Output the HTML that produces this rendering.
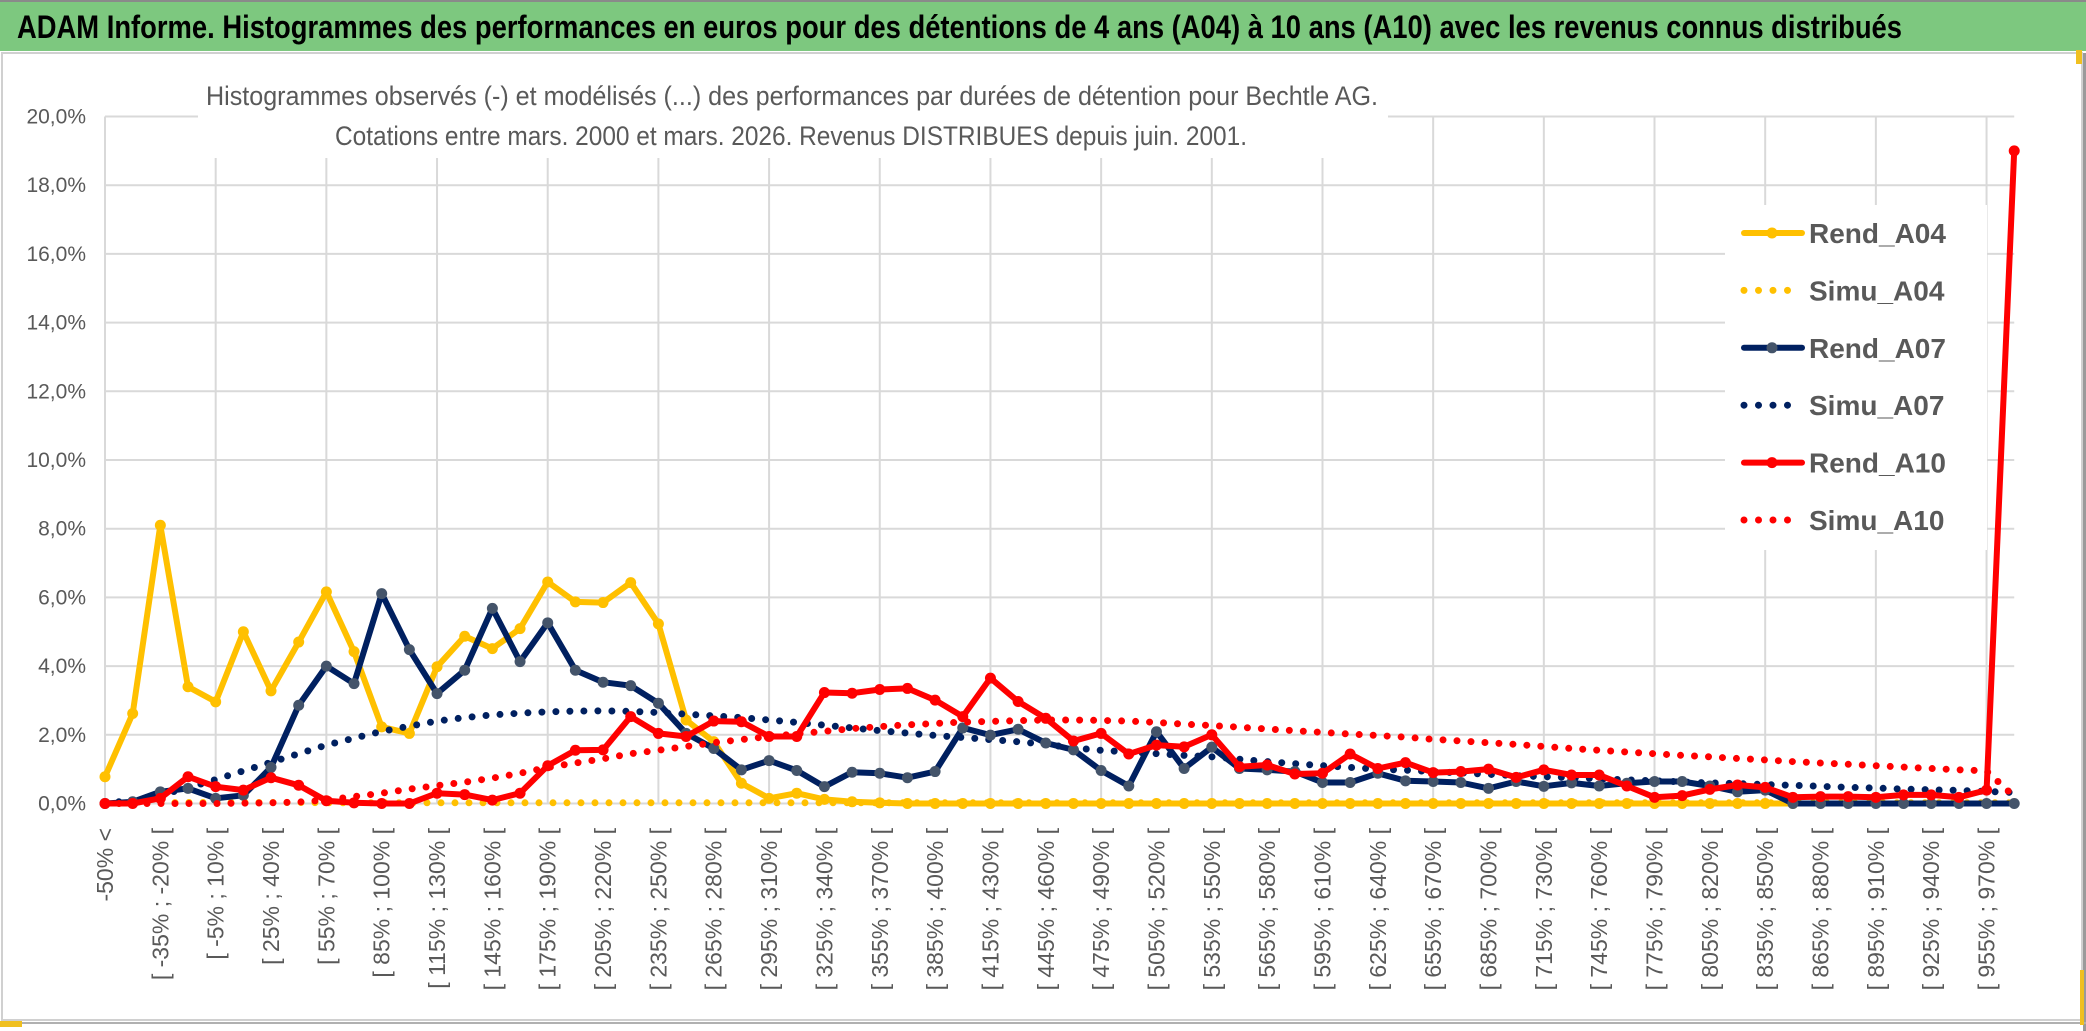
<!DOCTYPE html>
<html><head><meta charset="utf-8">
<style>
html,body{margin:0;padding:0;background:#fff;}
svg{display:block;font-family:"Liberation Sans Narrow","Liberation Sans",sans-serif;}
</style></head>
<body>
<svg id="chart" width="2086" height="1031" viewBox="0 0 2086 1031" xmlns="http://www.w3.org/2000/svg">
<rect x="0" y="0" width="2086" height="51" fill="#7dc87f"/>
<rect x="0" y="0" width="2086" height="2" fill="#8a8a8a"/>
<text x="17" y="38" font-size="32" font-weight="bold" fill="#000" textLength="1885" lengthAdjust="spacingAndGlyphs">ADAM Informe. Histogrammes des performances en euros pour des détentions de 4 ans (A04) à 10 ans (A10) avec les revenus connus distribués</text>
<rect x="2" y="53" width="2080" height="967" fill="#fff" stroke="#d0d0d0" stroke-width="2"/>
<rect x="2083" y="53" width="3" height="978" fill="#9a9a9a"/>
<rect x="0" y="1022" width="2086" height="2" fill="#b0b0b0"/>
<rect x="0" y="1021" width="22" height="6" fill="#f0c020"/>
<rect x="2076" y="50" width="6" height="14" fill="#f0c020"/>
<rect x="2080" y="970" width="4" height="55" fill="#f0c020"/>
<g id="grid"></g>
<g id="yaxis"></g>
<g id="xaxis"></g>
<g id="series"></g>
<rect x="198" y="70" width="1190" height="88" fill="#fff"/>
<text x="206" y="105" font-size="27" fill="#595959" textLength="1172" lengthAdjust="spacingAndGlyphs">Histogrammes observés (-) et modélisés (...) des performances par durées de détention pour Bechtle AG.</text>
<text x="335" y="145" font-size="27" fill="#595959" textLength="912" lengthAdjust="spacingAndGlyphs">Cotations entre mars. 2000 et mars. 2026. Revenus DISTRIBUES depuis juin. 2001.</text>
<g id="legend"></g>
</svg>
<script>
const categoriesStart = -50;
const categoriesStep = 15;
const categoryCount = 70;
const yTicks = [0,2,4,6,8,10,12,14,16,18,20];
const rendA04 = [0.78,2.62,8.1,3.4,2.96,5.0,3.28,4.7,6.16,4.42,2.23,2.04,3.98,4.87,4.51,5.09,6.45,5.87,5.85,6.43,5.23,2.43,1.8,0.59,0.15,0.3,0.12,0.05,0.02,0,0,0,0,0,0,0,0,0,0,0,0,0,0,0,0,0,0,0,0,0,0,0,0,0,0,0,0,0,0,0,0,0];
const simuA04 = [0,0.01,0.02,0.03,0.03,0.03,0.03,0.03,0.02,0.02,0.02,0.02,0.02,0.02,0.02,0.02,0.02,0.02,0.02,0.02,0.02,0.02,0.02,0.02,0.02,0.02,0.02,0.02,0.02,0.02,0.02,0.02,0.02,0.02,0.02,0.02,0.02,0.02,0.02,0.02,0.02,0.02,0.02,0.02,0.02,0.02,0.02,0.02,0.02,0.02,0.02,0.02,0.02,0.02,0.02,0.02,0.02,0.02,0.02,0.02,0.02,0.02,0.02,0.02,0.02,0.02,0.02,0.02,0.02,0.02];
const rendA07 = [0,0.05,0.34,0.44,0.15,0.24,1.05,2.86,4.0,3.49,6.11,4.48,3.2,3.88,5.68,4.13,5.26,3.88,3.53,3.43,2.92,2.04,1.6,0.98,1.25,0.96,0.49,0.91,0.88,0.75,0.93,2.2,1.99,2.16,1.76,1.56,0.96,0.51,2.09,1.02,1.64,1.02,0.98,0.93,0.61,0.61,0.88,0.66,0.64,0.61,0.44,0.64,0.5,0.6,0.51,0.59,0.64,0.64,0.51,0.34,0.39,0,0,0,0,0,0,0,0,0];
const simuA07 = [0,0.1,0.25,0.45,0.7,0.95,1.2,1.45,1.7,1.9,2.1,2.25,2.4,2.5,2.58,2.63,2.67,2.69,2.7,2.68,2.65,2.6,2.55,2.5,2.43,2.36,2.28,2.2,2.12,2.05,1.98,1.92,1.86,1.8,1.72,1.62,1.55,1.5,1.45,1.4,1.36,1.29,1.22,1.16,1.1,1.05,1.0,0.97,0.93,0.89,0.85,0.81,0.78,0.75,0.72,0.69,0.66,0.63,0.6,0.58,0.55,0.53,0.5,0.47,0.45,0.42,0.4,0.38,0.35,0.32];
const rendA10 = [0,0,0.15,0.78,0.49,0.39,0.75,0.53,0.08,0.02,0,0,0.3,0.26,0.1,0.3,1.1,1.55,1.56,2.53,2.04,1.95,2.4,2.38,1.95,1.95,3.23,3.21,3.32,3.35,3.01,2.53,3.65,2.97,2.48,1.82,2.04,1.44,1.7,1.65,2.0,1.07,1.12,0.86,0.88,1.44,1.02,1.19,0.9,0.93,1.0,0.76,0.98,0.83,0.83,0.51,0.18,0.23,0.41,0.54,0.47,0.18,0.2,0.2,0.18,0.25,0.25,0.18,0.39,19.0];
const simuA10 = [0,0,0,0,0,0.01,0.02,0.04,0.1,0.2,0.3,0.42,0.52,0.62,0.74,0.88,1.05,1.18,1.3,1.45,1.55,1.66,1.77,1.86,1.95,2.03,2.1,2.18,2.24,2.29,2.33,2.37,2.39,2.41,2.43,2.43,2.42,2.4,2.36,2.31,2.27,2.22,2.17,2.12,2.07,2.02,1.98,1.93,1.87,1.82,1.77,1.72,1.66,1.6,1.55,1.5,1.45,1.4,1.36,1.31,1.27,1.22,1.18,1.14,1.1,1.06,1.02,0.98,0.95,0.2];

const NS = "http://www.w3.org/2000/svg";
const X0 = 105, DX = 27.67, Y0 = 803.5, PERPCT = 34.35;
function xs(i){ return X0 + i*DX; }
function ys(v){ return Y0 - v*PERPCT; }
function mk(tag, parent, attrs){
  const e = document.createElementNS(NS, tag);
  for (const k in attrs) e.setAttribute(k, attrs[k]);
  parent.appendChild(e);
  return e;
}
const grid = document.getElementById('grid');
const yaxis = document.getElementById('yaxis');
const xaxis = document.getElementById('xaxis');
const series = document.getElementById('series');
const legend = document.getElementById('legend');

yTicks.forEach(t => {
  const l = mk('line', grid, {x1: X0, x2: xs(categoryCount-1), y1: ys(t), y2: ys(t), stroke:'#d9d9d9', 'stroke-width':2});
  
  
  const tx = mk('text', yaxis, {x: 86, y: ys(t)+7, 'text-anchor':'end', 'font-size':21, fill:'#595959'});
  tx.textContent = t.toFixed(1).replace('.', ',') + '%';
  
  
});
for (let i = 0; i < categoryCount; i += 4) {
  const l = mk('line', grid, {x1: xs(i), x2: xs(i), y1: ys(20), y2: Y0, stroke:'#d9d9d9', 'stroke-width':2});
  
  
}
for (let i = 0; i < categoryCount - 1; i += 2) {
  let label;
  if (i === 0) label = '-50% <';
  else { const a = categoriesStart + (i-1)*categoriesStep; label = '[ ' + a + '% ; ' + (a+categoriesStep) + '% ['; }
  const x = xs(i) + 8, y = 828;
  const tx = mk('text', xaxis, {x: x, y: y, 'text-anchor':'end', 'font-size':23, fill:'#595959', transform:'rotate(-90 '+x+' '+y+')', 'font-family':'"Liberation Sans",sans-serif'});
  tx.textContent = label;
  
  
}

function pts(arr){ return arr.map((v,i)=> xs(i).toFixed(1)+','+ys(v).toFixed(1)).join(' '); }
function dotted(arr, color, name){
  const p = mk('polyline', series, {points: pts(arr), fill:'none', stroke: color, 'stroke-width':7, 'stroke-linecap':'round', 'stroke-dasharray':'0 14'});
  
  
}
function solid(arr, color, mcolor, name){
  const p = mk('polyline', series, {points: pts(arr), fill:'none', stroke: color, 'stroke-width':6, 'stroke-linejoin':'round'});
  
  
  arr.forEach((v,i) => {
    const c = mk('circle', series, {cx: xs(i), cy: ys(v), r: 5.5, fill: mcolor});
    
    
  });
}
dotted(simuA04, '#FFC000', 'simu-a04-line');
solid(rendA04, '#FFC000', '#FFC000', 'rend-a04-line');
dotted(simuA07, '#002060', 'simu-a07-line');
solid(rendA07, '#002060', '#44546A', 'rend-a07-line');
dotted(simuA10, '#FF0000', 'simu-a10-line');
solid(rendA10, '#FF0000', '#FF0000', 'rend-a10-line');

const legendNames = ['Rend_A04','Simu_A04','Rend_A07','Simu_A07','Rend_A10','Simu_A10'];
const legendColors = ['#FFC000','#FFC000','#002060','#002060','#FF0000','#FF0000'];
const legendMarkers = ['#FFC000',null,'#44546A',null,'#FF0000',null];
const lbg = mk('rect', legend, {x:1725, y:205, width:262, height:345, fill:'#fff'});


legendNames.forEach((n, k) => {
  const y = 233 + k*57.4;
  const g = mk('g', legend, {});
  
  
  if (legendMarkers[k]) {
    mk('line', g, {x1:1744, x2:1802, y1:y, y2:y, stroke:legendColors[k], 'stroke-width':6, 'stroke-linecap':'round'});
    mk('circle', g, {cx:1772, cy:y, r:5.5, fill:legendMarkers[k]});
  } else {
    mk('line', g, {x1:1744, x2:1802, y1:y, y2:y, stroke:legendColors[k], 'stroke-width':7, 'stroke-linecap':'round', 'stroke-dasharray':'0 14.5'});
  }
  const t = mk('text', g, {x:1809, y:y+10, 'font-size':28, 'font-weight':'bold', fill:'#595959'});
  t.textContent = n;
});
</script>
</body></html>
